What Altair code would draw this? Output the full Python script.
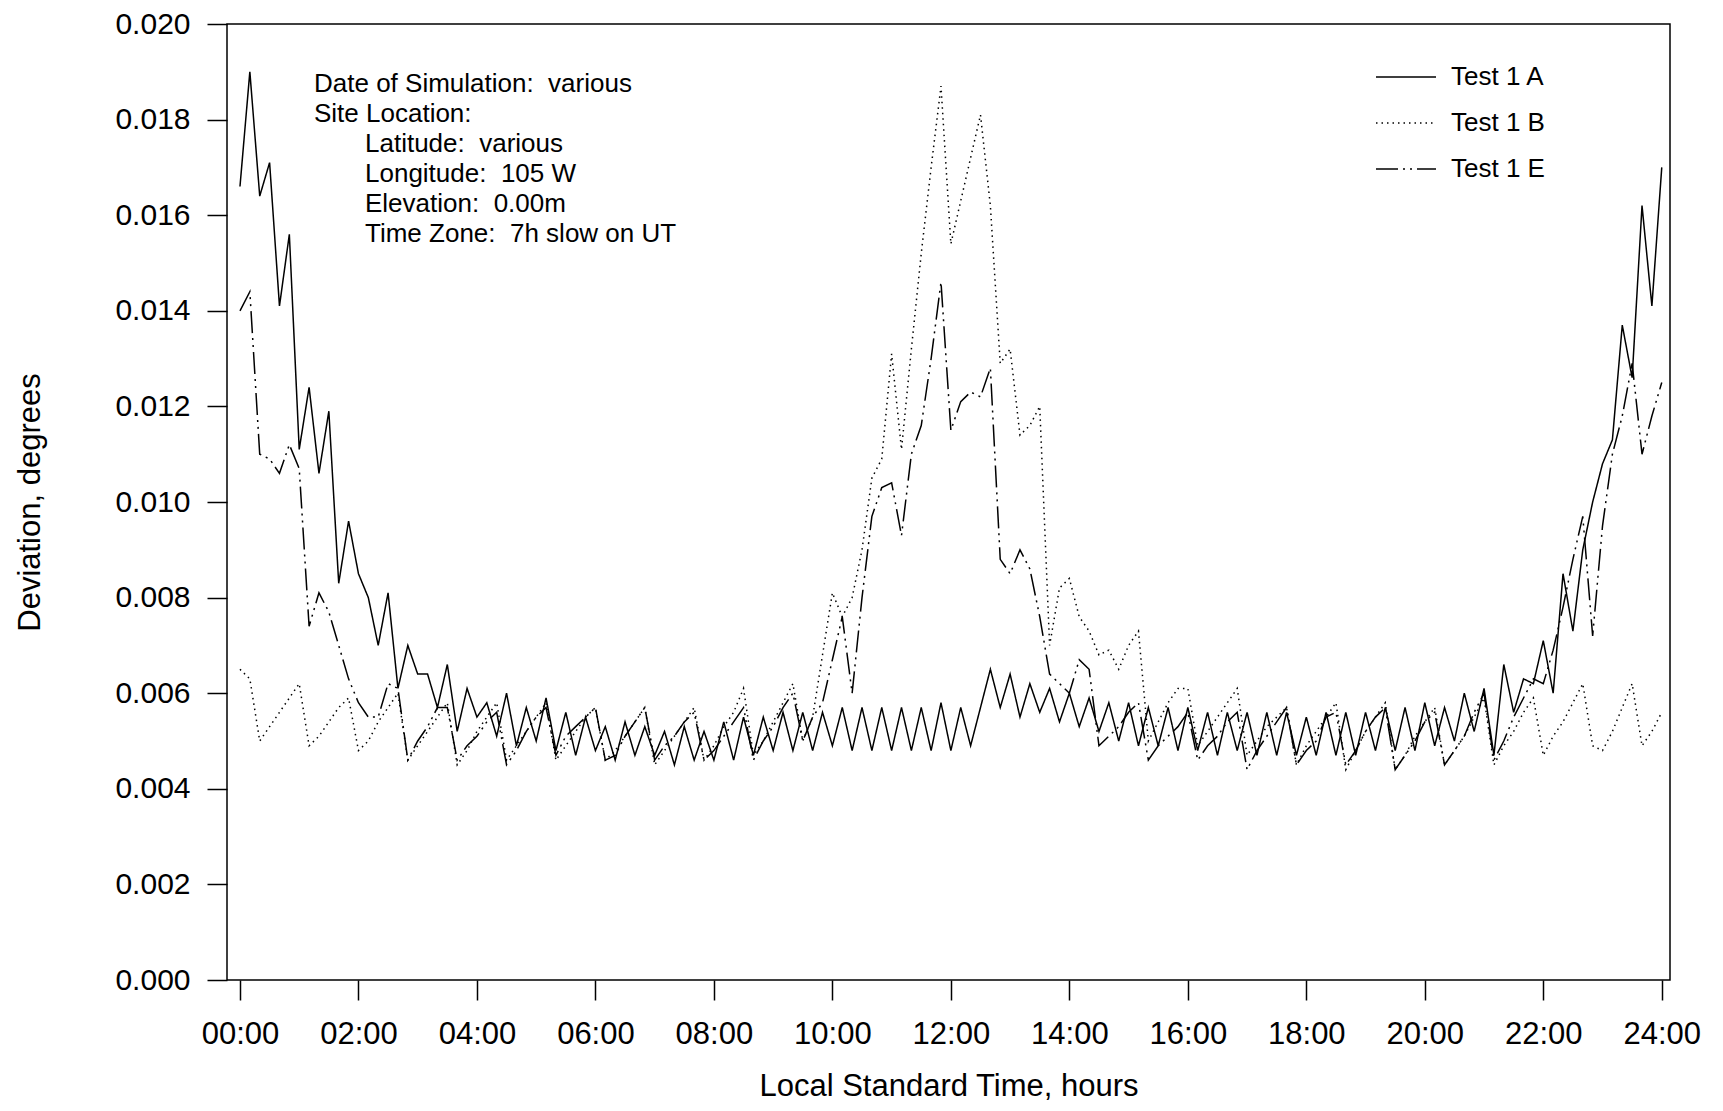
import altair as alt
import pandas as pd

# ---------------- data ----------------
HOURS = [i / 6 for i in range(145)]  # 10-minute samples, 00:00 .. 24:00

TEST_1A = [
    0.0166, 0.0190, 0.0164, 0.0171, 0.0141, 0.0156, 0.0111, 0.0124, 0.0106, 0.0119,
    0.0083, 0.0096, 0.0085, 0.0080, 0.0070, 0.0081, 0.0061, 0.0070, 0.0064, 0.0064,
    0.0057, 0.0066, 0.0052, 0.0061, 0.0055, 0.0058, 0.0051, 0.0060, 0.0049, 0.0057,
    0.0050, 0.0059, 0.0048, 0.0056, 0.0047, 0.0055, 0.0048, 0.0053, 0.0046, 0.0054,
    0.0047, 0.0053, 0.0047, 0.0052, 0.0045, 0.0053, 0.0046, 0.0052, 0.0046, 0.0054,
    0.0046, 0.0055, 0.0047, 0.0055, 0.0048, 0.0056, 0.0048, 0.0056, 0.0048, 0.0056,
    0.0049, 0.0057, 0.0048, 0.0057, 0.0048, 0.0057, 0.0048, 0.0057, 0.0048, 0.0057,
    0.0048, 0.0058, 0.0048, 0.0057, 0.0049, 0.0057, 0.0065, 0.0057, 0.0064, 0.0055,
    0.0062, 0.0056, 0.0061, 0.0054, 0.0060, 0.0053, 0.0059, 0.0052, 0.0058, 0.0050,
    0.0058, 0.0049, 0.0057, 0.0049, 0.0057, 0.0048, 0.0057, 0.0048, 0.0056, 0.0047,
    0.0056, 0.0048, 0.0056, 0.0047, 0.0056, 0.0047, 0.0056, 0.0047, 0.0055, 0.0047,
    0.0056, 0.0047, 0.0056, 0.0047, 0.0056, 0.0048, 0.0057, 0.0048, 0.0057, 0.0048,
    0.0058, 0.0049, 0.0057, 0.0050, 0.0060, 0.0052, 0.0061, 0.0047, 0.0066, 0.0056,
    0.0063, 0.0062, 0.0071, 0.0060, 0.0085, 0.0073, 0.0090, 0.0100, 0.0108, 0.0113,
    0.0137, 0.0126, 0.0162, 0.0141, 0.0170,
]

TEST_1B = [
    0.0065, 0.0063, 0.0050, 0.0053, 0.0056, 0.0059, 0.0062, 0.0049, 0.0051, 0.0054,
    0.0057, 0.0059, 0.0048, 0.0050, 0.0054, 0.0057, 0.0060, 0.0046, 0.0049, 0.0052,
    0.0055, 0.0058, 0.0045, 0.0048, 0.0052, 0.0055, 0.0058, 0.0046, 0.0049, 0.0052,
    0.0055, 0.0058, 0.0046, 0.0049, 0.0052, 0.0055, 0.0057, 0.0046, 0.0048, 0.0051,
    0.0054, 0.0057, 0.0045, 0.0048, 0.0051, 0.0054, 0.0057, 0.0046, 0.0049, 0.0053,
    0.0056, 0.0061, 0.0047, 0.0050, 0.0054, 0.0058, 0.0062, 0.0050, 0.0055, 0.0068,
    0.0081, 0.0076, 0.0080, 0.0090, 0.0105, 0.0109, 0.0131, 0.0111, 0.0132, 0.0152,
    0.0170, 0.0187, 0.0154, 0.0163, 0.0172, 0.0181, 0.0162, 0.0129, 0.0132, 0.0114,
    0.0116, 0.0120, 0.0070, 0.0082, 0.0084, 0.0076, 0.0073, 0.0068, 0.0069, 0.0065,
    0.0070, 0.0073, 0.0050, 0.0054, 0.0058, 0.0061, 0.0061, 0.0049, 0.0052, 0.0055,
    0.0058, 0.0061, 0.0047, 0.0050, 0.0053, 0.0055, 0.0057, 0.0045, 0.0049, 0.0052,
    0.0055, 0.0058, 0.0044, 0.0048, 0.0052, 0.0055, 0.0058, 0.0044, 0.0047, 0.0051,
    0.0054, 0.0057, 0.0045, 0.0048, 0.0051, 0.0055, 0.0059, 0.0045, 0.0049, 0.0052,
    0.0056, 0.0059, 0.0047, 0.0051, 0.0054, 0.0058, 0.0062, 0.0049, 0.0048, 0.0052,
    0.0057, 0.0062, 0.0049, 0.0052, 0.0056,
]

TEST_1E = [
    0.0140, 0.0144, 0.0110, 0.0109, 0.0106, 0.0112, 0.0107, 0.0074, 0.0081, 0.0077,
    0.0070, 0.0063, 0.0058, 0.0055, 0.0055, 0.0062, 0.0061, 0.0046, 0.0050, 0.0053,
    0.0057, 0.0057, 0.0046, 0.0049, 0.0051, 0.0054, 0.0056, 0.0045, 0.0048, 0.0052,
    0.0055, 0.0057, 0.0047, 0.0051, 0.0053, 0.0055, 0.0057, 0.0046, 0.0047, 0.0051,
    0.0054, 0.0057, 0.0046, 0.0049, 0.0051, 0.0054, 0.0056, 0.0046, 0.0048, 0.0051,
    0.0054, 0.0057, 0.0046, 0.0050, 0.0053, 0.0057, 0.0060, 0.0050, 0.0055, 0.0058,
    0.0067, 0.0076, 0.0060, 0.0080, 0.0097, 0.0103, 0.0104, 0.0093, 0.0110, 0.0116,
    0.0130, 0.0146, 0.0115, 0.0121, 0.0123, 0.0122, 0.0128, 0.0088, 0.0085, 0.0090,
    0.0086, 0.0076, 0.0064, 0.0062, 0.0060, 0.0067, 0.0065, 0.0049, 0.0051, 0.0053,
    0.0056, 0.0058, 0.0046, 0.0049, 0.0051, 0.0053, 0.0056, 0.0046, 0.0049, 0.0051,
    0.0054, 0.0056, 0.0044, 0.0048, 0.0051, 0.0054, 0.0057, 0.0045, 0.0048, 0.0050,
    0.0055, 0.0056, 0.0045, 0.0048, 0.0052, 0.0055, 0.0057, 0.0044, 0.0047, 0.0050,
    0.0054, 0.0056, 0.0045, 0.0048, 0.0051, 0.0056, 0.0060, 0.0046, 0.0050, 0.0055,
    0.0059, 0.0063, 0.0062, 0.0069, 0.0078, 0.0088, 0.0097, 0.0072, 0.0095, 0.0110,
    0.0118, 0.0129, 0.0110, 0.0118, 0.0125,
]

SERIES = ["Test 1 A", "Test 1 B", "Test 1 E"]
X_TICKS = [0, 2, 4, 6, 8, 10, 12, 14, 16, 18, 20, 22, 24]
Y_TICKS = [0.000, 0.002, 0.004, 0.006, 0.008, 0.010, 0.012, 0.014, 0.016, 0.018, 0.020]
NOTE_HEAD = ["Date of Simulation:\u00a0 various", "Site Location:"]
NOTE_SITE = [
    "Latitude:\u00a0 various",
    "Longitude:\u00a0 105 W",
    "Elevation:\u00a0 0.00m",
    "Time Zone:\u00a0 7h slow on UT",
]

assert len(TEST_1A) == len(TEST_1B) == len(TEST_1E) == len(HOURS)

rows = []
for name, vals in zip(SERIES, [TEST_1A, TEST_1B, TEST_1E]):
    for h, v in zip(HOURS, vals):
        rows.append({"hour": h, "dev": v, "series": name})
df = pd.DataFrame(rows)

FONT = "Liberation Sans"

lines = alt.Chart(df).mark_line(color="black", strokeWidth=1.5).encode(
    x=alt.X(
        "hour:Q",
        scale=alt.Scale(domain=[-0.219, 24.139], nice=False, zero=False),
        axis=alt.Axis(
            values=X_TICKS,
            labelExpr="(datum.value < 10 ? '0' : '') + datum.value + ':00'",
            title="Local Standard Time, hours",
            labelFontSize=31,
            labelPadding=19,
            titlePadding=22,
        ),
    ),
    y=alt.Y(
        "dev:Q",
        scale=alt.Scale(domain=[0, 0.02], nice=False),
        axis=alt.Axis(
            values=Y_TICKS,
            format=".3f",
            title="Deviation, degrees",
            labelFontSize=30,
            labelPadding=17,
            titlePadding=68,
        ),
    ),
    strokeDash=alt.StrokeDash(
        "series:N",
        scale=alt.Scale(domain=SERIES, range=[[1, 0], [1.5, 4], [22, 5, 2, 5, 2, 5]]),
        legend=alt.Legend(
            title=None,
            orient="none",
            legendX=1158,
            legendY=32,
            symbolType="M-1.5,0H1.5",
            symbolSize=1600,
            symbolStrokeWidth=1.5,
            symbolStrokeColor="black",
            labelOffset=24,
            rowPadding=12,
            padding=0,
            labelFont=FONT,
            labelFontSize=26,
            labelColor="black",
        ),
    ),
)

note_src = pd.DataFrame({"k": [0]})
note_head = alt.Chart(note_src).mark_text(
    align="left", baseline="alphabetic", font=FONT, fontSize=26, lineHeight=30, color="black"
).encode(x=alt.value(87), y=alt.value(68), text=alt.value(NOTE_HEAD))
note_site = alt.Chart(note_src).mark_text(
    align="left", baseline="alphabetic", font=FONT, fontSize=26, lineHeight=30, color="black"
).encode(x=alt.value(138), y=alt.value(128), text=alt.value(NOTE_SITE))

chart = (
    alt.layer(lines, note_head, note_site)
    .properties(
        width=1443,
        height=956,
        padding={"left": 219, "top": 16, "right": 42, "bottom": 123},
        autosize=alt.AutoSizeParams(type="none"),
        background="white",
    )
    .configure_view(stroke="black", strokeWidth=1.5)
    .configure_axis(
        grid=False,
        domain=False,
        labelFont=FONT,
        labelColor="black",
        titleFont=FONT,
        titleFontSize=31,
        titleFontWeight="normal",
        titleColor="black",
        tickColor="black",
        tickWidth=1.5,
        tickSize=20,
    )
)

chart.save("out.html", embed_options={"renderer": "svg", "actions": False})
